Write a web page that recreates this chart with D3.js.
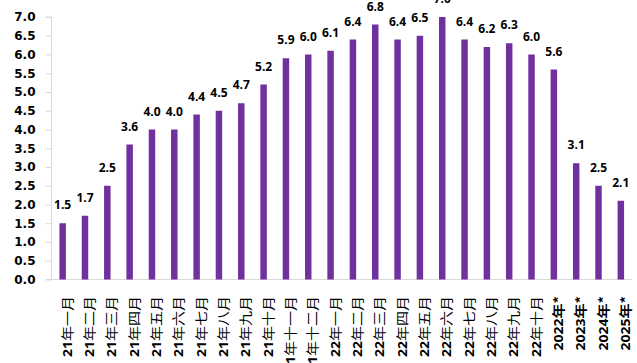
<!DOCTYPE html>
<html><head><meta charset="utf-8">
<script src="https://cdn.jsdelivr.net/npm/d3@7"></script>
<style>body{margin:0;background:#fff;overflow:hidden}</style>
</head><body>
<svg id="c" width="637" height="363"></svg>
<script>
const prefixes = ["21","21","21","21","21","21","21","21","21","21","21","21","22","22","22","22","22","22","22","22","22","22","2022","2023","2024","2025"];
const suffixes = ["年一月","年二月","年三月","年四月","年五月","年六月","年七月","年八月","年九月","年十月","年十一月","年十二月","年一月","年二月","年三月","年四月","年五月","年六月","年七月","年八月","年九月","年十月","年*","年*","年*","年*"];
const categories = prefixes.map((p,i)=>p+suffixes[i]);
const values = [1.5,1.7,2.5,3.6,4.0,4.0,4.4,4.5,4.7,5.2,5.9,6.0,6.1,6.4,6.8,6.4,6.5,7.0,6.4,6.2,6.3,6.0,5.6,3.1,2.5,2.1];
const yTicks = [0,0.5,1,1.5,2,2.5,3,3.5,4,4.5,5,5.5,6,6.5,7];

const svg = d3.select("#c");
const x0 = 51.5, x1 = 632, yb = 279.5, yt = 17;
const x = d3.scaleBand().domain(categories).range([x0,x1]).paddingInner(0.71).paddingOuter(0.355);
const y = d3.scaleLinear().domain([0,7]).range([yb,yt]);
const grid = "#d9d9d9";

// y axis
const ya = svg.append("g").attr("transform",`translate(${x0},0)`)
  .call(d3.axisLeft(y).tickValues(yTicks).tickFormat(d3.format(".1f")).tickSize(6).tickPadding(10));
ya.select(".domain").attr("stroke",grid).attr("d",`M-6,${yt}H0V${yb}`);
ya.selectAll(".tick line").attr("stroke",grid);
ya.selectAll(".tick text").attr("fill","#000").style("font-family","'DejaVu Sans'").style("font-weight","bold").style("font-size","12px");

// baseline
svg.append("line").attr("x1",x0-6).attr("x2",x1).attr("y1",yb).attr("y2",yb).attr("stroke",grid).attr("stroke-width",1.2);

// bars
svg.selectAll("rect.bar").data(values).join("rect").attr("class","bar")
  .attr("x",(d,i)=>x(categories[i])).attr("width",x.bandwidth())
  .attr("y",d=>y(d)).attr("height",d=>yb-y(d)).attr("fill","#7030a0");

// value labels
svg.selectAll("text.val").data(values).join("text").attr("class","val")
  .attr("x",(d,i)=>x(categories[i])+x.bandwidth()/2).attr("y",d=>y(d)-14)
  .attr("text-anchor","middle").style("font-family","'Open Sans'").style("font-weight","bold").style("font-size","12px")
  .attr("fill","#000").text(d=>d3.format(".1f")(d));

// x labels
const xl = svg.selectAll("text.xl").data(categories).join("text").attr("class","xl")
  .attr("transform",(d,i)=>`translate(${x(d)+x.bandwidth()/2+9},296) rotate(-90) scale(1,0.85)`)
  .attr("text-anchor","end").attr("fill","#000");
xl.append("tspan").style("font-family","'Open Sans'").style("font-weight","bold").style("font-size","14px").text((d,i)=>prefixes[i]);
xl.append("tspan").style("font-family","'Noto Sans CJK SC'").style("font-size","15px")
  .style("font-weight",(d,i)=>prefixes[i].length>2?"bold":"normal").text((d,i)=>suffixes[i]);
</script>
</body></html>
